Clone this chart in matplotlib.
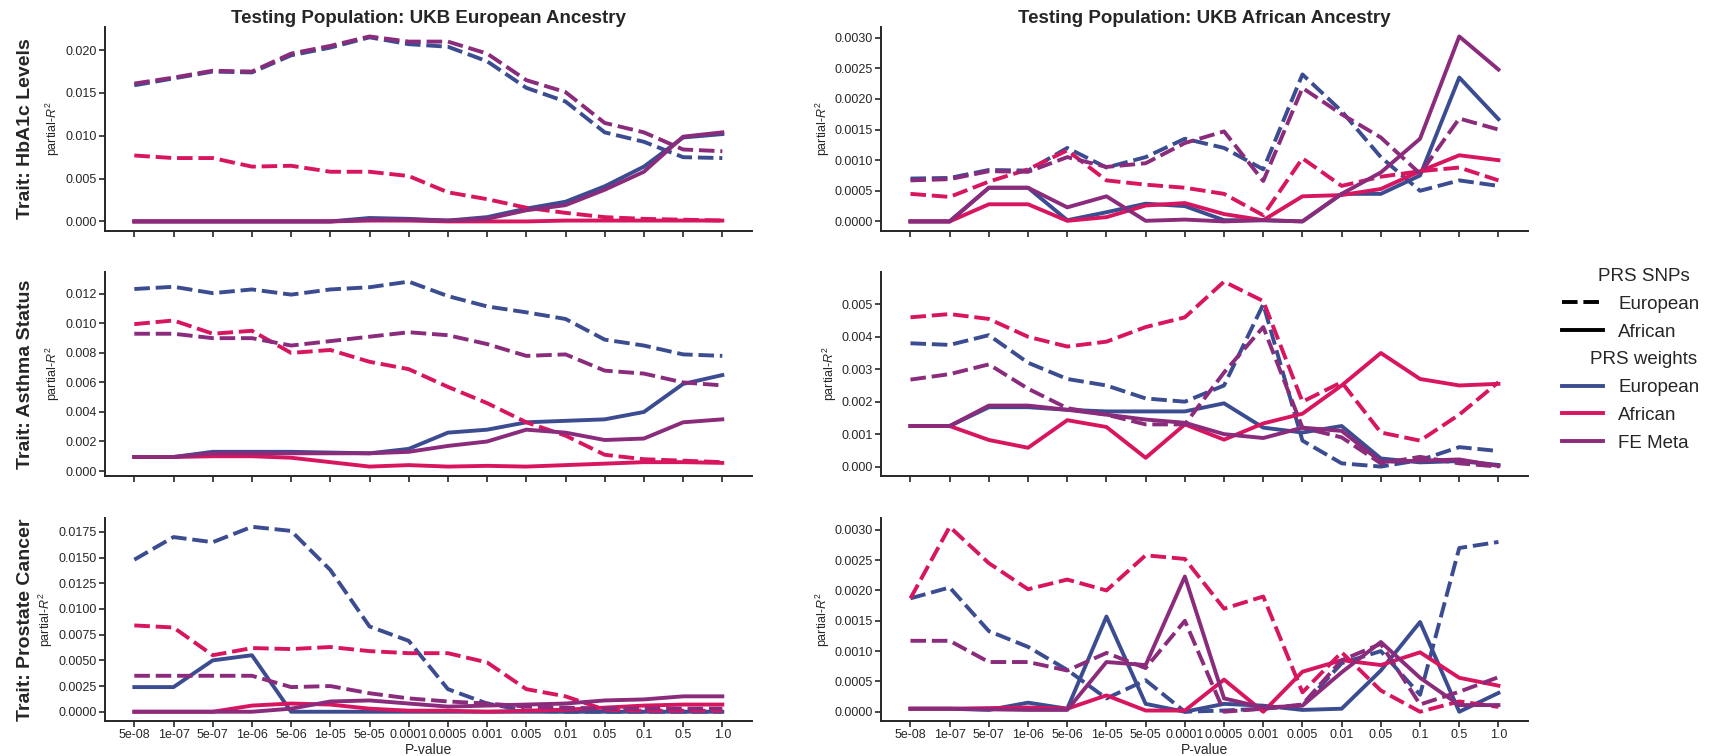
import matplotlib.pyplot as plt
import numpy as np
from matplotlib.lines import Line2D

plt.rcParams["font.family"] = ["Liberation Sans", "DejaVu Sans"]
plt.rcParams["mathtext.fontset"] = "custom"
plt.rcParams["mathtext.rm"] = "Liberation Sans"
plt.rcParams["mathtext.it"] = "Liberation Sans:italic"
plt.rcParams["text.color"] = "#262626"
plt.rcParams["axes.labelcolor"] = "#262626"
plt.rcParams["xtick.color"] = "#262626"
plt.rcParams["ytick.color"] = "#262626"

p_values = ["5e-08", "1e-07", "5e-07", "1e-06", "5e-06", "1e-05", "5e-05", "0.0001",
            "0.0005", "0.001", "0.005", "0.01", "0.05", "0.1", "0.5", "1.0"]
traits = ["HbA1c Levels", "Asthma Status", "Prostate Cancer"]
populations = ["UKB European Ancestry", "UKB African Ancestry"]
weight_names = ["European", "African", "FE Meta"]
weight_colors = ["#3b4c91", "#d8155f", "#8a2b7b"]

# naming: <trait>_<testing pop>_<snps>snp_<weights>w ; eur/afr/meta
# HbA1c, tested in UKB European
hba1c_eur_eursnp_eurw = [0.0159, 0.0167, 0.0175, 0.0174, 0.0194, 0.0203, 0.0215, 0.0207,
                         0.0204, 0.0187, 0.0156, 0.0140, 0.0104, 0.0093, 0.0075, 0.0074]
hba1c_eur_eursnp_afrw = [0.0077, 0.0074, 0.0074, 0.0064, 0.0065, 0.0058, 0.0058, 0.0053,
                         0.0034, 0.0026, 0.0016, 0.0010, 0.0005, 0.0003, 0.0002, 0.0001]
hba1c_eur_eursnp_metaw = [0.0161, 0.0168, 0.0176, 0.0175, 0.0196, 0.0205, 0.0216, 0.0210,
                          0.0210, 0.0196, 0.0165, 0.0151, 0.0115, 0.0104, 0.0084, 0.0082]
hba1c_eur_afrsnp_eurw = [0.0, 0.0, 0.0, 0.0, 0.0, 0.0, 0.0004, 0.0003,
                         0.0001, 0.0005, 0.0015, 0.0023, 0.0041, 0.0064, 0.0098, 0.0102]
hba1c_eur_afrsnp_afrw = [0.0, 0.0, 0.0, 0.0, 0.0, 0.0, 0.0001, 0.0001,
                         0.0, 0.0, 0.0, 0.0001, 0.0001, 0.0001, 0.0001, 0.0001]
hba1c_eur_afrsnp_metaw = [0.0, 0.0, 0.0, 0.0, 0.0, 0.0, 0.0002, 0.0002,
                          0.0001, 0.0003, 0.0013, 0.0019, 0.0037, 0.0058, 0.0099, 0.0104]

# HbA1c, tested in UKB African
hba1c_afr_eursnp_eurw = [0.00070, 0.00071, 0.00084, 0.00083, 0.00120, 0.00088, 0.00105, 0.00135,
                         0.00120, 0.00085, 0.00240, 0.00180, 0.00105, 0.00050, 0.00067, 0.00058]
hba1c_afr_eursnp_afrw = [0.00045, 0.00040, 0.00065, 0.00085, 0.00116, 0.00067, 0.00060, 0.00055,
                         0.00045, 0.00010, 0.00103, 0.00058, 0.00073, 0.00082, 0.00088, 0.00067]
hba1c_afr_eursnp_metaw = [0.00067, 0.00069, 0.00082, 0.00081, 0.00105, 0.00089, 0.00095, 0.00128,
                          0.00147, 0.00066, 0.00218, 0.00175, 0.00137, 0.00078, 0.00168, 0.00150]
hba1c_afr_afrsnp_eurw = [0.0, 0.0, 0.00055, 0.00055, 0.00002, 0.00015, 0.00029, 0.00025,
                         0.00002, 0.00002, 0.0, 0.00045, 0.00045, 0.00075, 0.00235, 0.00167]
hba1c_afr_afrsnp_afrw = [0.0, 0.0, 0.00028, 0.00028, 0.00001, 0.00007, 0.00026, 0.00030,
                         0.00012, 0.00002, 0.00041, 0.00043, 0.00053, 0.00082, 0.00108, 0.00100]
hba1c_afr_afrsnp_metaw = [0.0, 0.0, 0.00055, 0.00055, 0.00023, 0.00041, 0.00001, 0.00003,
                          0.0, 0.00002, 0.0, 0.00045, 0.00080, 0.00135, 0.00302, 0.00248]

# Asthma, tested in UKB European
asthma_eur_eursnp_eurw = [0.01233, 0.01248, 0.01205, 0.01230, 0.01195, 0.01230, 0.01245, 0.01283,
                          0.01185, 0.01115, 0.01075, 0.01030, 0.00890, 0.00850, 0.00790, 0.00780]
asthma_eur_eursnp_afrw = [0.00995, 0.01020, 0.00930, 0.00950, 0.00800, 0.00820, 0.00740, 0.00690,
                          0.00570, 0.00460, 0.00330, 0.00240, 0.00110, 0.00080, 0.00070, 0.00060]
asthma_eur_eursnp_metaw = [0.0093, 0.0093, 0.0090, 0.0090, 0.0085, 0.0088, 0.0091, 0.0094,
                           0.0092, 0.0086, 0.0078, 0.0079, 0.0068, 0.0066, 0.0060, 0.0058]
asthma_eur_afrsnp_eurw = [0.00095, 0.00095, 0.0013, 0.0013, 0.0013, 0.00125, 0.0012, 0.0015,
                          0.0026, 0.0028, 0.0033, 0.0034, 0.0035, 0.0040, 0.0059, 0.0065]
asthma_eur_afrsnp_afrw = [0.00095, 0.00095, 0.0010, 0.0010, 0.0009, 0.0006, 0.0003, 0.0004,
                          0.0003, 0.00035, 0.0003, 0.0004, 0.0005, 0.0006, 0.0006, 0.00055]
asthma_eur_afrsnp_metaw = [0.00095, 0.00095, 0.0012, 0.0012, 0.0012, 0.0012, 0.0012, 0.0013,
                           0.0017, 0.0020, 0.0028, 0.0026, 0.0021, 0.0022, 0.0033, 0.0035]

# Asthma, tested in UKB African
asthma_afr_eursnp_eurw = [0.0038, 0.00375, 0.00405, 0.0032, 0.0027, 0.0025, 0.0021, 0.0020,
                          0.0025, 0.0050, 0.0008, 0.0001, 0.0000, 0.0002, 0.0006, 0.00048]
asthma_afr_eursnp_afrw = [0.0046, 0.0047, 0.00455, 0.0040, 0.0037, 0.00385, 0.0043, 0.0046,
                          0.0057, 0.0051, 0.0020, 0.0026, 0.00105, 0.0008, 0.0016, 0.0026]
asthma_afr_eursnp_metaw = [0.00268, 0.00285, 0.00315, 0.0024, 0.0018, 0.0016, 0.0013, 0.0013,
                           0.0029, 0.0043, 0.0012, 0.0009, 0.0001, 0.0003, 0.0001, 0.0]
asthma_afr_afrsnp_eurw = [0.00125, 0.00125, 0.00183, 0.00183, 0.00175, 0.0017, 0.0017, 0.0017,
                          0.00195, 0.0012, 0.00105, 0.00125, 0.00025, 0.00013, 0.00017, 0.00005]
asthma_afr_afrsnp_afrw = [0.00125, 0.00125, 0.00082, 0.00058, 0.00143, 0.00122, 0.00027, 0.0013,
                          0.00083, 0.00133, 0.00163, 0.0025, 0.0035, 0.0027, 0.0025, 0.00255]
asthma_afr_afrsnp_metaw = [0.00125, 0.00125, 0.00188, 0.00188, 0.00175, 0.0016, 0.00145, 0.00135,
                           0.0010, 0.00088, 0.0012, 0.0011, 0.00015, 0.00018, 0.00022, 0.00002]

# Prostate cancer, tested in UKB European
prostate_eur_eursnp_eurw = [0.0148, 0.0170, 0.0165, 0.0180, 0.0176, 0.0138, 0.0083, 0.0069,
                            0.0022, 0.0008, 0.0001, 0.0, 0.0, 0.0, 0.0, 0.0]
prostate_eur_eursnp_afrw = [0.0084, 0.0082, 0.0055, 0.0062, 0.0061, 0.0063, 0.0059, 0.0057,
                            0.0057, 0.0048, 0.0022, 0.0015, 0.0002, 0.0001, 0.0001, 0.0001]
prostate_eur_eursnp_metaw = [0.0035, 0.0035, 0.0035, 0.0035, 0.0024, 0.0025, 0.0018, 0.0013,
                             0.0010, 0.0008, 0.0005, 0.0004, 0.0003, 0.0003, 0.0003, 0.0003]
prostate_eur_afrsnp_eurw = [0.0024, 0.0024, 0.0050, 0.0055, 0.0, 0.0, 0.0, 0.0,
                            0.0, 0.0, 0.0, 0.0, 0.0, 0.0, 0.0, 0.0]
prostate_eur_afrsnp_afrw = [0.0, 0.0, 0.0, 0.0006, 0.0008, 0.0007, 0.0003, 0.0001,
                            0.0001, 0.0, 0.0001, 0.0002, 0.0004, 0.0006, 0.0007, 0.0007]
prostate_eur_afrsnp_metaw = [0.0, 0.0, 0.0, 0.0, 0.0003, 0.0010, 0.0011, 0.0008,
                             0.0005, 0.0006, 0.0007, 0.0008, 0.0011, 0.0012, 0.0015, 0.0015]

# Prostate cancer, tested in UKB African
prostate_afr_eursnp_eurw = [0.00187, 0.00205, 0.00133, 0.00107, 0.00069, 0.00022, 0.00052, 0.0,
                            0.00002, 0.00005, 0.0001, 0.0008, 0.0010, 0.00028, 0.0027, 0.0028]
prostate_afr_eursnp_afrw = [0.00187, 0.00305, 0.00245, 0.00202, 0.00218, 0.0020, 0.00258, 0.00252,
                            0.0017, 0.0019, 0.00032, 0.00098, 0.00035, 0.0, 0.00017, 0.00008]
prostate_afr_eursnp_metaw = [0.00117, 0.00117, 0.00082, 0.00082, 0.00068, 0.00097, 0.00072, 0.0015,
                             0.0, 0.00005, 0.00012, 0.00085, 0.00112, 0.00012, 0.00033, 0.00057]
prostate_afr_afrsnp_eurw = [0.00005, 0.00005, 0.00003, 0.00015, 0.00005, 0.00157, 0.00013, 0.0,
                            0.00013, 0.0001, 0.00003, 0.00005, 0.00068, 0.00148, 0.0, 0.00031]
prostate_afr_afrsnp_afrw = [0.00005, 0.00005, 0.00006, 0.00007, 0.00005, 0.00027, 0.00002, 0.00002,
                            0.00053, 0.0, 0.00066, 0.00085, 0.00077, 0.00098, 0.00056, 0.00043]
prostate_afr_afrsnp_metaw = [0.00005, 0.00005, 0.00004, 0.00003, 0.00003, 0.00082, 0.00077, 0.00223,
                             0.00022, 0.00007, 0.0001, 0.00065, 0.00115, 0.00056, 0.00011, 0.00011]

# panel -> {snps: [series per weight]}
panels = [
    [{"European": [hba1c_eur_eursnp_eurw, hba1c_eur_eursnp_afrw, hba1c_eur_eursnp_metaw],
      "African": [hba1c_eur_afrsnp_eurw, hba1c_eur_afrsnp_afrw, hba1c_eur_afrsnp_metaw]},
     {"European": [hba1c_afr_eursnp_eurw, hba1c_afr_eursnp_afrw, hba1c_afr_eursnp_metaw],
      "African": [hba1c_afr_afrsnp_eurw, hba1c_afr_afrsnp_afrw, hba1c_afr_afrsnp_metaw]}],
    [{"European": [asthma_eur_eursnp_eurw, asthma_eur_eursnp_afrw, asthma_eur_eursnp_metaw],
      "African": [asthma_eur_afrsnp_eurw, asthma_eur_afrsnp_afrw, asthma_eur_afrsnp_metaw]},
     {"European": [asthma_afr_eursnp_eurw, asthma_afr_eursnp_afrw, asthma_afr_eursnp_metaw],
      "African": [asthma_afr_afrsnp_eurw, asthma_afr_afrsnp_afrw, asthma_afr_afrsnp_metaw]}],
    [{"European": [prostate_eur_eursnp_eurw, prostate_eur_eursnp_afrw, prostate_eur_eursnp_metaw],
      "African": [prostate_eur_afrsnp_eurw, prostate_eur_afrsnp_afrw, prostate_eur_afrsnp_metaw]},
     {"European": [prostate_afr_eursnp_eurw, prostate_afr_eursnp_afrw, prostate_afr_eursnp_metaw],
      "African": [prostate_afr_afrsnp_eurw, prostate_afr_afrsnp_afrw, prostate_afr_afrsnp_metaw]}],
]

LW = 2.8
DASH = (4, 1.5)

fig, axes = plt.subplots(3, 2, figsize=(17.09, 7.56), dpi=100)
fig.subplots_adjust(left=0.0614, right=0.894, bottom=0.0463, top=0.964, wspace=0.2, hspace=0.205)

x = np.arange(len(p_values))
for r in range(3):
    for c in range(2):
        ax = axes[r, c]
        for w in range(3):
            for snp in ["European", "African"]:
                y = panels[r][c][snp][w]
                if snp == "European":
                    ax.plot(x, y, color=weight_colors[w], lw=LW, dashes=DASH)
                else:
                    ax.plot(x, y, color=weight_colors[w], lw=LW)

        for side in ["top", "right"]:
            ax.spines[side].set_visible(False)
        for side in ["left", "bottom"]:
            ax.spines[side].set_linewidth(1.4)
            ax.spines[side].set_color("#262626")
        ax.tick_params(direction="out", length=4, width=1.2, labelsize=9, pad=2)

        ax.set_xticks(x)
        if r == 2:
            ax.set_xticklabels(p_values)
            ax.set_xlabel("P-value", fontsize=10, labelpad=1)
        else:
            ax.set_xticklabels([])
        ax.set_ylabel("partial-$R^2$", fontsize=9, labelpad=2)

        if r == 0:
            ax.set_title(f"Testing Population: {populations[c]}", fontsize=13.5,
                         fontweight="bold", pad=2)
        if c == 0:
            ax.text(-0.123, 0.5, f"Trait: {traits[r]}", transform=ax.transAxes,
                    rotation=90, ha="center", va="center", fontsize=14, fontweight="bold")

# legend: line style = PRS SNPs, colour = PRS weights
blank = Line2D([], [], color="none")
handles = [blank,
           Line2D([], [], color="black", lw=LW, dashes=DASH),
           Line2D([], [], color="black", lw=LW),
           blank]
handles += [Line2D([], [], color=col, lw=LW) for col in weight_colors]
labels = ["PRS SNPs", "European", "African", "PRS weights"] + weight_names

leg = fig.legend(handles, labels, loc="center left", bbox_to_anchor=(0.914, 0.524),
                 frameon=False, fontsize=13.5, handlelength=2.2, handletextpad=0.8,
                 labelspacing=0.57, borderpad=0, borderaxespad=0)

# centre the two group headers over the legend
fig.canvas.draw()
W, H = fig.canvas.get_width_height()
lb = leg.get_window_extent()
for idx in (0, 3):
    t = leg.get_texts()[idx]
    bb = t.get_window_extent()
    t.set_visible(False)
    fig.text((lb.x0 + lb.x1) / 2 / W, (bb.y0 + bb.y1) / 2 / H, labels[idx],
             ha="center", va="center", fontsize=13.5)

fig.savefig("out.png", dpi=100)
